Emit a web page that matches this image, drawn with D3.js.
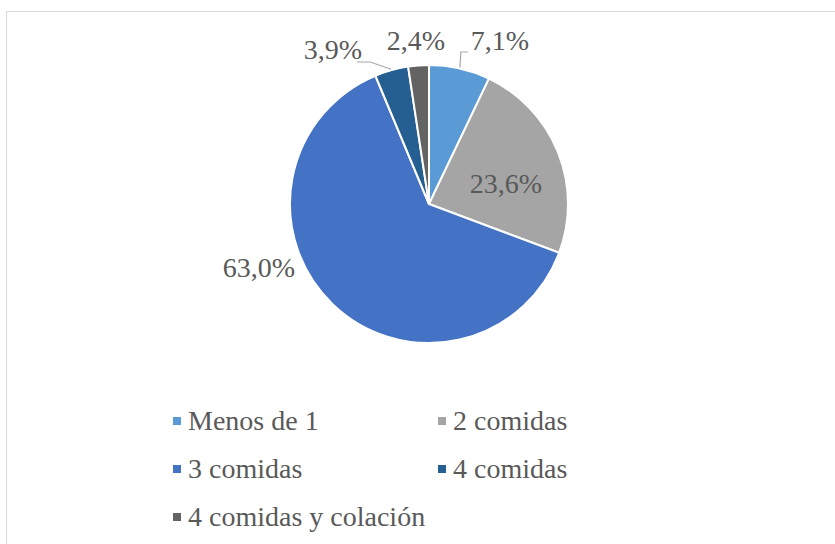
<!DOCTYPE html>
<html><head><meta charset="utf-8">
<script src="https://cdn.jsdelivr.net/npm/d3@7"></script>
<style>
html,body{margin:0;padding:0;background:#fff;}
svg{display:block;}
</style></head>
<body>
<svg id="c" width="835" height="544"></svg>
<script>
const categories = ["Menos de 1", "2 comidas", "3 comidas", "4 comidas", "4 comidas y colación"];
const values = [7.1, 23.6, 63.0, 3.9, 2.4];
const labels = ["7,1%", "23,6%", "63,0%", "3,9%", "2,4%"];
const colors = ["#5b9bd5", "#a5a5a5", "#4472c4", "#255e91", "#636363"];

// layout (not data)
const FONT = '"Liberation Serif"';
const cx = 429, cy = 204, R = 139;
const labelOffsets = [[71, -154], [77, -11], [-170, 73], [-96, -145], [-13, -154]];
const hasLeader = [true, false, false, true, false];

const svg = d3.select("#c");
svg.append("rect").attr("x", 6.5).attr("y", 11.5).attr("width", 840).attr("height", 540)
  .attr("fill", "#fff").attr("stroke", "#d9d9d9").attr("stroke-width", 1);

const pie = d3.pie().sort(null).value(d => d)(values);
const arc = d3.arc().innerRadius(0).outerRadius(R);
const g = svg.append("g").attr("transform", `translate(${cx},${cy})`);
g.selectAll("path").data(pie).join("path")
  .attr("d", arc).attr("fill", (d, i) => colors[i])
  .attr("stroke", "#fff").attr("stroke-width", 2).attr("stroke-linejoin", "round");

const txt = g.selectAll("text.lbl").data(pie).join("text").attr("class", "lbl")
  .attr("x", (d, i) => labelOffsets[i][0]).attr("y", (d, i) => labelOffsets[i][1])
  .attr("text-anchor", "middle")
  .style("font-family", FONT).attr("font-size", 28).attr("fill", "#595959")
  .text((d, i) => labels[i]);

// leader lines
pie.forEach((d, i) => {
  if (!hasLeader[i]) return;
  const a = (d.startAngle + d.endAngle) / 2;
  const p0 = [Math.sin(a) * (R + 1), -Math.cos(a) * (R + 1)];
  const bb = txt.nodes()[i].getBBox();
  let pts;
  if (p0[0] > 0) {
    const y = labelOffsets[i][1] + 2;
    pts = [p0, [bb.x - 10, y], [bb.x - 3, y]];
  } else {
    const y = labelOffsets[i][1] + 3;
    pts = [p0, [bb.x + bb.width + 8, y], [bb.x + bb.width - 5, y]];
  }
  g.append("path").attr("d", d3.line()(pts)).attr("fill", "none")
    .attr("stroke", "#a6a6a6").attr("stroke-width", 1.2);
});

// legend
const colX = [173, 438], rowY = [430, 478, 526];
const lg = svg.append("g");
categories.forEach((c, i) => {
  const x = colX[i % 2], y = rowY[Math.floor(i / 2)];
  lg.append("rect").attr("x", x).attr("y", y - 13).attr("width", 8).attr("height", 8).attr("fill", colors[i]);
  lg.append("text").attr("x", x + 15).attr("y", y)
    .style("font-family", FONT).attr("font-size", 28).attr("fill", "#595959").text(c);
});
</script>
</body></html>
